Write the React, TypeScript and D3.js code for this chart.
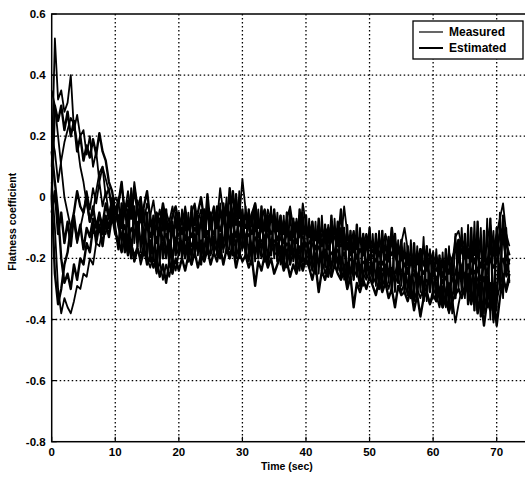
import React from "react";
import * as d3 from "d3";

const xTicks = [0, 10, 20, 30, 40, 50, 60, 70];
const yTicks = [0.6, 0.4, 0.2, 0, -0.2, -0.4, -0.6, -0.8];
const yTickLabels = ["0.6", "0.4", "0.2", "0", "-0.2", "-0.4", "-0.6", "-0.8"];
const legendLabels = ["Measured", "Estimated"];
const timeStep = 0.5;

// early part t = 0..10 (21 values), later part t = 10.5..72 (124 values)
const measured1 = [
  0.1, 0.52, 0.32, 0.35, 0.28, 0.31, 0.4, 0.22, 0.27, 0.2, 0.22, 0.14, 0.2, 0.1, 0.15, 0.05, 0.1, 0.0, 0.03, -0.04, 0.0,
  -0.02, 0.04, -0.05, 0.02, -0.06, 0.05, -0.03, 0.0, -0.08, -0.02,
  -0.06, -0.01, -0.09, -0.04, -0.11, -0.05, -0.08, -0.03, -0.1, -0.06,
  -0.09, -0.03, -0.1, -0.05, -0.02, -0.08, -0.04, -0.11, -0.05, -0.07,
  -0.03, -0.08, 0.03, -0.05, -0.02, -0.09, -0.04, 0.0, -0.07, 0.06,
  -0.04, -0.1, -0.05, -0.02, -0.09, -0.06, -0.11, -0.04, -0.08, -0.05,
  -0.1, -0.06, -0.12, -0.07, -0.03, -0.1, -0.08, -0.13, -0.02, -0.09,
  -0.12, -0.08, -0.14, -0.09, -0.13, -0.1, -0.15, -0.08, -0.12, -0.1,
  -0.15, -0.03, -0.12, -0.16, -0.11, -0.17, -0.13, -0.15, -0.12, -0.16,
  -0.14, -0.18, -0.13, -0.17, -0.12, -0.16, -0.19, -0.14, -0.18, -0.15,
  -0.1, -0.17, -0.21, -0.18, -0.22, -0.19, -0.16, -0.2, -0.18, -0.21,
  -0.19, -0.23, -0.2, -0.24, -0.18, -0.22, -0.13, -0.11, -0.16, -0.14,
  -0.2, -0.15, -0.19, -0.12, -0.17, -0.21, -0.14, -0.09, -0.16, -0.12,
  -0.07, -0.02, -0.12, -0.16,
];
const estimated1 = [
  0.0, 0.3, 0.25, 0.3, 0.22, 0.28, 0.2, 0.25, 0.15, 0.2, 0.12, 0.17, 0.13, 0.19, 0.14, 0.21, 0.15, 0.12, 0.05, 0.02, -0.05,
  -0.06, -0.1, -0.04, -0.09, 0.01, -0.07, -0.11, -0.06, -0.12, -0.09,
  -0.13, -0.09, -0.15, -0.1, -0.14, -0.12, -0.16, -0.11, -0.14, -0.12,
  -0.1, -0.14, -0.09, -0.13, -0.1, -0.12, -0.08, -0.13, 0.01, -0.1,
  -0.12, -0.08, -0.11, -0.07, -0.12, 0.03, -0.09, -0.13, -0.08, -0.11,
  -0.13, -0.09, -0.12, -0.08, -0.13, -0.1, -0.14, -0.09, -0.12, -0.1,
  -0.14, -0.11, -0.15, -0.12, -0.14, -0.1, -0.15, -0.12, -0.13, -0.16,
  -0.15, -0.13, -0.17, -0.14, -0.16, -0.12, -0.17, -0.14, -0.13, -0.16,
  -0.04, -0.17, -0.15, -0.19, -0.16, -0.2, -0.17, -0.19, -0.16, -0.2,
  -0.19, -0.21, -0.18, -0.22, -0.2, -0.21, -0.1, -0.19, -0.22, -0.2,
  -0.22, -0.25, -0.21, -0.24, -0.26, -0.23, -0.25, -0.22, -0.26, -0.24,
  -0.27, -0.24, -0.28, -0.26, -0.3, -0.27, -0.25, -0.2, -0.23, -0.26,
  -0.22, -0.25, -0.2, -0.24, -0.27, -0.22, -0.25, -0.2, -0.23, -0.21,
  -0.17, -0.13, -0.2, -0.22,
];
const measured2 = [
  0.05, -0.1, -0.3, -0.38, -0.33, -0.36, -0.38, -0.34, -0.29, -0.3, -0.25, -0.26, -0.2, -0.22, -0.15, -0.16, -0.1, -0.12, -0.05, -0.08, -0.04,
  -0.1, -0.14, -0.12, -0.17, -0.15, -0.19, -0.16, -0.22, -0.18, -0.2,
  -0.23, -0.19, -0.25, -0.21, -0.27, -0.22, -0.26, -0.2, -0.24, -0.18,
  -0.16, -0.2, -0.15, -0.19, -0.14, -0.18, -0.15, -0.2, -0.16, -0.19,
  -0.15, -0.18, -0.13, -0.17, -0.14, -0.19, -0.15, -0.16, -0.2, -0.14,
  -0.17, -0.21, -0.16, -0.19, -0.15, -0.2, -0.17, -0.22, -0.16, -0.18,
  -0.19, -0.16, -0.2, -0.17, -0.22, -0.18, -0.21, -0.17, -0.23, -0.19,
  -0.2, -0.24, -0.19, -0.22, -0.2, -0.25, -0.21, -0.23, -0.19, -0.22,
  -0.25, -0.22, -0.27, -0.23, -0.26, -0.24, -0.29, -0.25, -0.27, -0.24,
  -0.26, -0.28, -0.24, -0.29, -0.26, -0.3, -0.25, -0.28, -0.26, -0.31,
  -0.28, -0.32, -0.29, -0.34, -0.3, -0.33, -0.29, -0.31, -0.35, -0.3,
  -0.32, -0.36, -0.31, -0.34, -0.38, -0.33, -0.41, -0.35, -0.3, -0.32,
  -0.28, -0.33, -0.3, -0.36, -0.32, -0.37, -0.31, -0.35, -0.3, -0.34,
  -0.29, -0.25, -0.31, -0.27,
];
const estimated2 = [
  0.0, -0.25, -0.35, -0.3, -0.22, -0.18, -0.1, -0.05, 0.02, -0.03, -0.05, 0.0, -0.08, -0.03, -0.1, -0.05, -0.12, -0.06, -0.1, -0.04, -0.08,
  -0.02, 0.05, -0.06, -0.01, -0.07, 0.03, -0.05, -0.08, -0.03, 0.02,
  -0.07, -0.1, -0.05, -0.09, -0.02, -0.08, -0.11, -0.06, -0.03, -0.09,
  -0.12, -0.07, -0.1, -0.06, -0.09, -0.05, 0.0, -0.08, -0.06, -0.09,
  -0.06, -0.1, -0.04, -0.08, -0.05, -0.07, 0.02, -0.09, -0.05, -0.08,
  -0.1, -0.05, -0.09, -0.02, -0.1, -0.07, -0.04, -0.11, -0.06, -0.09,
  -0.11, -0.07, -0.12, -0.09, -0.13, -0.08, -0.11, -0.06, -0.12, -0.1,
  -0.13, -0.1, -0.14, -0.11, -0.15, -0.12, -0.1, -0.14, -0.11, -0.15,
  -0.16, -0.12, -0.17, -0.14, -0.18, -0.15, -0.13, -0.17, -0.14, -0.16,
  -0.18, -0.15, -0.19, -0.16, -0.2, -0.17, -0.15, -0.19, -0.17, -0.2,
  -0.19, -0.22, -0.2, -0.23, -0.21, -0.17, -0.22, -0.24, -0.2, -0.23,
  -0.24, -0.21, -0.26, -0.22, -0.25, -0.2, -0.17, -0.14, -0.18, -0.2,
  -0.17, -0.21, -0.16, -0.19, -0.23, -0.18, -0.22, -0.15, -0.19, -0.17,
  -0.12, -0.1, -0.15, -0.19,
];
const measured3 = [
  0.2, 0.15, 0.05, 0.12, 0.18, 0.22, 0.26, 0.24, 0.18, 0.1, 0.05, -0.02, -0.08, -0.05, 0.02, 0.08, 0.1, 0.06, 0.02, -0.05, -0.03,
  -0.08, -0.13, -0.09, -0.15, -0.1, -0.13, -0.08, -0.14, -0.11, -0.16,
  -0.14, -0.18, -0.13, -0.17, -0.15, -0.2, -0.14, -0.18, -0.16, -0.19,
  -0.15, -0.18, -0.13, -0.16, -0.12, -0.17, -0.14, -0.16, -0.11, -0.15,
  -0.13, -0.16, -0.12, -0.15, -0.1, -0.14, -0.12, -0.15, -0.13, -0.17,
  -0.14, -0.12, -0.16, -0.13, -0.17, -0.14, -0.15, -0.12, -0.17, -0.14,
  -0.16, -0.13, -0.18, -0.15, -0.17, -0.14, -0.19, -0.16, -0.18, -0.15,
  -0.18, -0.15, -0.2, -0.16, -0.19, -0.17, -0.21, -0.18, -0.2, -0.17,
  -0.21, -0.18, -0.23, -0.2, -0.22, -0.19, -0.24, -0.21, -0.23, -0.2,
  -0.22, -0.25, -0.21, -0.24, -0.22, -0.26, -0.23, -0.25, -0.21, -0.24,
  -0.26, -0.23, -0.27, -0.25, -0.28, -0.26, -0.3, -0.27, -0.29, -0.25,
  -0.28, -0.3, -0.27, -0.31, -0.28, -0.32, -0.3, -0.26, -0.24, -0.27,
  -0.25, -0.28, -0.24, -0.27, -0.3, -0.26, -0.33, -0.28, -0.41, -0.3,
  -0.23, -0.2, -0.26, -0.24,
];
const estimated3 = [
  -0.05, 0.02, -0.12, -0.05, -0.15, -0.08, -0.16, -0.06, -0.14, -0.09, -0.17, -0.1, -0.13, -0.07, -0.15, -0.09, -0.16, -0.08, -0.13, -0.06, -0.12,
  -0.14, -0.18, -0.13, -0.19, -0.15, -0.21, -0.17, -0.2, -0.16, -0.22,
  -0.19, -0.23, -0.2, -0.26, -0.22, -0.28, -0.21, -0.25, -0.2, -0.24,
  -0.2, -0.24, -0.19, -0.22, -0.18, -0.23, -0.19, -0.21, -0.17, -0.22,
  -0.18, -0.21, -0.16, -0.22, -0.17, -0.2, -0.16, -0.23, -0.18, -0.21,
  -0.19, -0.23, -0.2, -0.29, -0.21, -0.24, -0.19, -0.23, -0.2, -0.25,
  -0.22, -0.19, -0.24, -0.21, -0.26, -0.22, -0.25, -0.21, -0.24, -0.2,
  -0.23, -0.27, -0.22, -0.31, -0.24, -0.27, -0.23, -0.26, -0.22, -0.25,
  -0.27, -0.24, -0.3, -0.26, -0.36, -0.28, -0.31, -0.27, -0.3, -0.26,
  -0.29, -0.32, -0.27, -0.31, -0.28, -0.33, -0.3, -0.36, -0.29, -0.32,
  -0.31, -0.34, -0.3, -0.37, -0.32, -0.39, -0.33, -0.31, -0.35, -0.32,
  -0.34, -0.31, -0.36, -0.33, -0.37, -0.34, -0.32, -0.3, -0.33, -0.29,
  -0.31, -0.35, -0.29, -0.38, -0.33, -0.42, -0.34, -0.37, -0.31, -0.42,
  -0.33, -0.27, -0.3, -0.25,
];
const measured4 = [
  0.35, 0.3, 0.2, 0.1, 0.0, -0.05, -0.1, -0.08, -0.15, -0.1, -0.05, 0.02, -0.04, 0.03, -0.02, 0.05, -0.03, 0.02, -0.06, 0.0, -0.05,
  0.0, -0.16, -0.02, -0.17, 0.03, -0.15, -0.01, -0.18, -0.04, -0.2,
  -0.05, -0.21, -0.06, -0.22, -0.04, -0.2, -0.07, -0.23, -0.05, -0.19,
  -0.04, -0.2, -0.05, -0.22, -0.03, -0.19, -0.06, -0.21, -0.02, -0.18,
  -0.03, -0.19, -0.02, -0.18, 0.0, -0.17, -0.04, -0.2, 0.02, -0.16,
  -0.03, -0.2, -0.05, -0.21, -0.04, -0.19, -0.06, -0.22, -0.03, -0.2,
  -0.05, -0.22, -0.06, -0.23, -0.04, -0.21, -0.07, -0.24, -0.05, -0.22,
  -0.07, -0.24, -0.08, -0.25, -0.06, -0.23, -0.09, -0.26, -0.07, -0.24,
  -0.1, -0.27, -0.09, -0.28, -0.11, -0.26, -0.1, -0.29, -0.12, -0.27,
  -0.12, -0.29, -0.11, -0.3, -0.13, -0.28, -0.1, -0.31, -0.14, -0.29,
  -0.15, -0.32, -0.14, -0.33, -0.16, -0.31, -0.13, -0.34, -0.17, -0.32,
  -0.17, -0.35, -0.18, -0.36, -0.16, -0.38, -0.12, -0.3, -0.1, -0.33,
  -0.09, -0.34, -0.08, -0.36, -0.1, -0.38, -0.07, -0.4, -0.11, -0.37,
  -0.05, -0.33, -0.1, -0.28,
];
const estimated4 = [
  0.15, 0.05, -0.05, -0.2, -0.28, -0.25, -0.3, -0.22, -0.27, -0.2, -0.22, -0.15, -0.18, -0.1, -0.13, -0.06, -0.09, -0.02, -0.07, -0.01, -0.1,
  -0.17, -0.02, -0.18, -0.04, -0.2, -0.03, -0.16, 0.0, -0.19, -0.05,
  -0.21, -0.06, -0.24, -0.07, -0.2, -0.04, -0.22, -0.08, -0.19, -0.05,
  -0.2, -0.05, -0.21, -0.03, -0.19, -0.06, -0.22, -0.04, -0.18, -0.05,
  -0.18, -0.03, -0.2, -0.02, -0.17, -0.05, -0.19, 0.01, -0.18, -0.04,
  -0.19, -0.04, -0.22, -0.05, -0.2, -0.03, -0.21, -0.06, -0.19, -0.04,
  -0.21, -0.06, -0.23, -0.05, -0.22, -0.07, -0.24, -0.04, -0.21, -0.06,
  -0.23, -0.08, -0.25, -0.07, -0.24, -0.09, -0.26, -0.06, -0.23, -0.08,
  -0.26, -0.1, -0.28, -0.11, -0.27, -0.09, -0.29, -0.12, -0.26, -0.1,
  -0.28, -0.12, -0.3, -0.11, -0.29, -0.13, -0.31, -0.12, -0.28, -0.14,
  -0.31, -0.16, -0.33, -0.15, -0.32, -0.17, -0.34, -0.16, -0.31, -0.18,
  -0.34, -0.19, -0.36, -0.17, -0.37, -0.2, -0.33, -0.14, -0.3, -0.12,
  -0.35, -0.1, -0.37, -0.08, -0.39, -0.11, -0.36, -0.07, -0.4, -0.1,
  -0.3, -0.06, -0.25, -0.2,
];

const seriesList = [
  { name: "Measured", values: measured1 },
  { name: "Estimated", values: estimated1 },
  { name: "Measured", values: measured2 },
  { name: "Estimated", values: estimated2 },
  { name: "Measured", values: measured3 },
  { name: "Estimated", values: estimated3 },
  { name: "Measured", values: measured4 },
  { name: "Estimated", values: estimated4 },
];

const W = 525;
const H = 477;
const left = 51.7;
const top = 14;
const bottom = 441.7;
const xScale = d3.scaleLinear().domain([0, 80]).range([left, left + 80 * 6.357]);
const yScale = d3.scaleLinear().domain([-0.8, 0.6]).range([bottom, top]);
const right = xScale(80);

const lineGen = d3
  .line<number>()
  .x((_, i) => xScale(i * timeStep))
  .y((d) => yScale(d));

const font = "'Liberation Sans', Arial, sans-serif";

export default function App() {
  return (
    <svg
      width={W}
      height={H}
      style={{ position: "absolute", left: 0, top: 0, background: "#fff" }}
      fontFamily={font}
    >
      <rect x={0} y={0} width={W} height={H} fill="#fff" />
      {/* grid */}
      {xTicks.slice(1).map((t) => (
        <line key={"gx" + t} x1={xScale(t)} x2={xScale(t)} y1={top} y2={bottom} stroke="#000" strokeWidth={1.3} strokeDasharray="1.5,2.5" />
      ))}
      {yTicks.slice(1, -1).map((t) => (
        <line key={"gy" + t} x1={left} x2={right} y1={yScale(t)} y2={yScale(t)} stroke="#000" strokeWidth={1.3} strokeDasharray="1.5,2.5" />
      ))}
      {/* data */}
      {seriesList.map((s, i) => (
        <path
          key={i}
          d={lineGen(s.values) || ""}
          fill="none"
          stroke="#000"
          strokeWidth={s.name === "Measured" ? 1.8 : 2.4}
          strokeLinejoin="round"
        />
      ))}
      {/* frame */}
      <rect x={left} y={top} width={right - left} height={bottom - top} fill="none" stroke="#000" strokeWidth={1.5} />
      {/* ticks */}
      {xTicks.map((t) => (
        <line key={"tx" + t} x1={xScale(t)} x2={xScale(t)} y1={bottom} y2={bottom - 5} stroke="#000" strokeWidth={1.2} />
      ))}
      {yTicks.map((t) => (
        <line key={"ty" + t} x1={left} x2={left + 5} y1={yScale(t)} y2={yScale(t)} stroke="#000" strokeWidth={1.2} />
      ))}
      {/* tick labels */}
      {xTicks.map((t) => (
        <text key={"lx" + t} x={xScale(t)} y={bottom + 14} textAnchor="middle" fontSize={11.5} fontWeight="bold">
          {t}
        </text>
      ))}
      {yTicks.map((t, i) => (
        <text key={"ly" + t} x={left - 6} y={yScale(t) + 4} textAnchor="end" fontSize={11.5} fontWeight="bold">
          {yTickLabels[i]}
        </text>
      ))}
      {/* axis titles */}
      <text x={xScale(37)} y={470} textAnchor="middle" fontSize={10.5} fontWeight="bold">
        Time (sec)
      </text>
      <text
        transform={`translate(16, ${yScale(-0.08)}) rotate(-90)`}
        textAnchor="middle"
        fontSize={10.5}
        fontWeight="bold"
      >
        Flatness coefficient
      </text>
      {/* legend */}
      <rect x={413} y={21} width={110} height={38} fill="#fff" stroke="#000" strokeWidth={1.3} />
      {legendLabels.map((lab, i) => (
        <g key={lab}>
          <line x1={419} x2={443} y1={32 + i * 16} y2={32 + i * 16} stroke="#000" strokeWidth={i === 0 ? 1.2 : 2} />
          <text x={449} y={36 + i * 16} fontSize={12} fontWeight="bold">
            {lab}
          </text>
        </g>
      ))}
    </svg>
  );
}
